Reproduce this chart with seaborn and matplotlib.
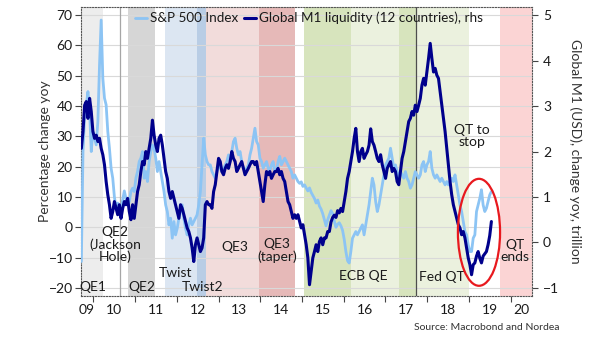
import numpy as np
import pandas as pd
import matplotlib
matplotlib.use("Agg")
import matplotlib.pyplot as plt
import seaborn as sns
from matplotlib.patches import Ellipse

# ---------------- data ----------------
start_year, end_year = 2009.713, 2019.537

sp500_yoy = [
    -11.3, 25.0, 37.1, 40.4, 44.8, 38.2, 25.0, 31.6, 29.4, 27.2, 34.9, 53.6, 68.4, 49.2, 42.6, 40.4, 31.6, 26.1, 19.5,
    16.2, 10.0, 6.5, 8.0, 4.5, 6.0, 9.0, 12.0, 9.5, 7.5, 8.5, 11.8, 12.9, 11.8, 16.2, 18.4, 21.7, 22.8, 25.0,
    16.2, 18.4, 15.1, 21.7, 25.0, 27.2, 26.1, 22.8, 18.4, 21.7, 18.4, 15.1, 11.8, 7.4, 5.2, 0.8, 3.0, -3.6, 1.9, -2.5,
    -0.3, 3.0, 5.2, 7.4, 3.0, -0.3, -2.5, 0.8, 3.0, 0.8, 1.9, 3.0, 4.1, 7.4, 11.8, 20.6, 29.4, 23.9, 21.7, 20.6,
    20.6, 18.4, 17.3, 16.2, 18.4, 20.6, 19.5, 18.4, 19.5, 20.6, 21.7, 23.9, 21.7, 25.0, 28.3, 29.4, 26.1, 23.9, 25.0, 21.7,
    19.5, 18.4, 19.5, 20.6, 23.9, 26.1, 29.4, 32.7, 28.3, 27.2, 22.8, 21.7, 19.5, 20.6, 21.7, 19.5, 18.4, 20.6, 21.7, 18.4,
    18.4, 21.7, 23.4, 20.6, 21.7, 22.8, 21.7, 20.6, 19.5, 18.4, 16.2, 17.3, 16.2, 15.1, 14.5, 15.0, 13.5, 14.0, 13.0, 12.0,
    13.0, 11.5, 10.5, 9.5, 8.0, 9.0, 7.0, 6.0, 4.5, 2.5, 0.5, 2.5, 4.0, 5.5, 4.5, 2.0, 0.0, 1.0, 1.5, 0.5,
    -1.0, -4.0, -8.0, -11.0, -11.8, -8.0, -3.6, -2.5, -1.4, -2.5, -1.4, -0.3, 0.8, -2.5, 0.8, 4.1, 7.4, 11.8, 16.2, 14.0,
    8.5, 5.2, 7.4, 10.7, 14.0, 17.3, 20.6, 21.7, 22.8, 26.1, 22.8, 19.5, 20.6, 18.4, 16.2, 18.4, 17.3, 16.2, 18.4, 16.2,
    15.1, 12.9, 14.0, 16.2, 18.4, 17.3, 16.2, 17.3, 20.6, 21.7, 18.4, 20.6, 21.7, 25.0, 19.5, 17.3, 16.2, 17.3, 16.2, 15.1,
    16.2, 15.1, 14.0, 15.1, 14.0, 15.1, 16.2, 15.1, 17.3, 14.0, 10.7, 7.4, 5.2, 1.9, -1.4, -2.5, -5.8, -8.0, -8.0, -3.6,
    -2.5, 5.2, 7.4, 9.6, 12.4, 7.4, 5.2, 6.3, 8.5, 10.7, 11.8,
]

global_m1_yoy = [
    2.07, 2.44, 3.02, 3.10, 2.73, 3.17, 2.88, 2.44, 2.29, 2.36, 2.22, 2.29, 2.07, 1.93, 1.71, 1.34, 1.05, 0.83, 0.53,
    0.68, 0.90, 0.75, 0.61, 0.83, 0.53, 0.75, 0.90, 0.83, 0.97, 0.68, 0.50, 0.83, 0.53, 0.83, 1.12, 1.27, 1.56, 1.78,
    1.71, 2.00, 1.85, 2.07, 2.29, 2.69, 2.36, 2.14, 2.00, 2.29, 2.36, 2.14, 1.85, 1.56, 1.41, 1.12, 0.97, 1.12, 0.97, 0.83,
    0.68, 0.53, 0.83, 0.75, 0.61, 0.46, 0.32, 0.24, 0.10, -0.12, -0.42, -0.05, 0.10, -0.05, -0.20, -0.12, 0.10, 0.83, 0.90, 0.83,
    0.83, 0.75, 1.12, 1.27, 1.56, 1.85, 1.78, 1.56, 1.49, 1.63, 1.71, 1.63, 1.78, 2.00, 1.85, 1.78, 1.56, 1.63, 1.71, 1.78,
    1.63, 1.49, 1.56, 1.63, 1.71, 1.78, 1.78, 1.71, 1.78, 1.56, 1.34, 1.12, 0.90, 1.27, 1.56, 1.49, 1.56, 1.41, 1.49, 1.56,
    1.56, 1.63, 1.49, 1.56, 1.41, 1.34, 1.12, 0.90, 0.83, 0.68, 0.53, 0.61, 0.53, 0.61, 0.46, 0.32, 0.39, 0.17, -0.05, -0.34,
    -0.93, -0.64, -0.34, -0.20, -0.05, -0.20, 0.02, 0.10, -0.05, 0.10, 0.10, 0.24, 0.24, 0.45, 0.55, 0.60, 0.55, 0.70, 0.65, 0.75,
    0.68, 0.90, 1.12, 1.41, 1.56, 1.78, 2.00, 2.29, 2.51, 2.00, 1.78, 2.00, 2.07, 1.85, 1.93, 2.00, 2.14, 2.50, 2.22, 2.14,
    2.00, 1.85, 1.78, 1.93, 1.71, 1.56, 1.41, 1.63, 1.71, 1.78, 1.56, 1.63, 1.56, 1.34, 1.27, 1.56, 1.85, 2.00, 2.22, 2.44,
    2.66, 2.73, 2.88, 2.80, 3.02, 2.88, 3.02, 3.17, 3.46, 3.61, 3.46, 3.75, 4.05, 4.38, 4.05, 3.75, 3.83, 3.68, 3.61, 3.32,
    3.02, 2.73, 2.44, 2.07, 1.71, 1.34, 1.05, 0.83, 0.68, 0.53, 0.39, 0.32, 0.17, 0.24, 0.10, -0.12, -0.34, -0.49, -0.71, -0.49,
    -0.45, -0.30, -0.20, -0.35, -0.45, -0.30, -0.25, -0.20, -0.05, 0.15, 0.46,
]

years = np.linspace(start_year, end_year, len(sp500_yoy))
df = pd.DataFrame({"year": years, "sp500": sp500_yoy, "m1": global_m1_yoy})

# shaded policy periods: (start, end, colour)
periods = [
    (2009.70, 2010.225, "#ededed"),   # QE1
    (2010.83, 2011.48, "#d6d6d6"),    # QE2
    (2011.72, 2012.49, "#dce6f2"),    # Twist
    (2012.49, 2012.70, "#b9cde5"),    # Twist2
    (2012.70, 2013.97, "#f2dcdb"),    # QE3
    (2013.97, 2014.83, "#e6b9b8"),    # QE3 taper
    (2015.05, 2016.17, "#d7e4bd"),    # ECB QE
    (2016.17, 2017.32, "#ebf1de"),
    (2017.32, 2017.73, "#d7e4bd"),
    (2017.73, 2018.99, "#ebf1de"),    # Fed QT
    (2019.75, 2020.60, "#fbd4d4"),    # QT ends
]
event_lines = [(2010.64, "#a6a6a6"), (2017.73, "#4d4d4d")]

annotations = [
    (2009.98, -19.7, "QE1"),
    (2010.52, -5.7, "QE2\n(Jackson\nHole)"),
    (2011.16, -19.7, "QE2"),
    (2011.98, -15.2, "Twist"),
    (2012.62, -19.7, "Twist2"),
    (2013.38, -6.6, "QE3"),
    (2014.40, -7.7, "QE3\n(taper)"),
    (2016.47, -16.1, "ECB QE"),
    (2018.35, -16.5, "Fed QT"),
    (2019.07, 30.0, "QT to\nstop"),
    (2020.11, -7.8, "QT\nends"),
]

year_labels = ["09", "10", "11", "12", "13", "14", "15", "16", "17", "18", "19", "20"]
year_label_pos = [2009.83] + [y + 0.5 for y in range(2010, 2020)] + [2020.25]

# ---------------- styling ----------------
sns.set_theme(style="white")
plt.rcParams["font.family"] = ["Lato", "DejaVu Sans"]
text_col = "#1a1a1a"
light_blue = "#8cc4f4"
navy = "#00008c"

fig = plt.figure(figsize=(6.05, 3.41), dpi=100)
ax = fig.add_axes([81 / 605, 45 / 341, 451 / 605, 289 / 341])
ax2 = ax.twinx()

for a, b, c in periods:
    ax.axvspan(a, b, color=c, lw=0, zorder=0)
for xv, c in event_lines:
    ax.axvline(xv, color=c, lw=0.9, zorder=0.6)

sns.lineplot(data=df, x="year", y="sp500", ax=ax, color=light_blue, lw=2.0,
             label="S&P 500 Index", estimator=None, zorder=3)
sns.lineplot(data=df, x="year", y="m1", ax=ax2, color=navy, lw=2.2,
             label="Global M1 liquidity (12 countries), rhs", estimator=None, zorder=3)

ax.set_xlim(2009.705, 2020.51)
ax.set_ylim(-22.67, 72.7)
ax2.set_ylim((-22.67 + 5) / 15, (72.7 + 5) / 15)

ax.set_yticks(range(-20, 71, 10))
ax2.set_yticks(range(-1, 6))
ax.yaxis.grid(True, color="#d9d9d9", lw=0.8, zorder=0.5)
ax.set_axisbelow(True)

ax.set_xticks(range(2010, 2021))
ax.set_xticklabels([])
ax.set_xticks(year_label_pos, minor=True)
ax.set_xticklabels(year_labels, minor=True)
ax.tick_params(axis="x", which="major", bottom=True, direction="out", length=4, width=0.8, color="#444444")
ax.tick_params(axis="x", which="minor", bottom=True, length=0, pad=6, labelsize=10, labelcolor=text_col)
ax.tick_params(axis="y", left=True, direction="out", length=4, width=0.8, color="#444444",
               labelsize=10, labelcolor=text_col, pad=2)
ax2.tick_params(axis="y", right=True, direction="out", length=4, width=0.8, color="#444444",
                labelsize=10, labelcolor=text_col, pad=4)

ax.set_xlabel("")
ax.set_ylabel("Percentage change yoy", fontsize=10, color="#333333", va="center")
ax.yaxis.set_label_coords(-36 / 451, 0.5)
ax2.set_ylabel("Global M1 (USD), change yoy, trillion", fontsize=10, color="#333333",
               rotation=270, va="center")
ax2.yaxis.set_label_coords(494 / 451, 0.5)

for s in ["top", "bottom", "left"]:
    ax.spines[s].set(linestyle=(0, (1, 1.5)), color="#555555", lw=0.8, visible=True)
ax.spines["right"].set_visible(False)
for s in ["top", "bottom", "left"]:
    ax2.spines[s].set_visible(False)
ax2.spines["right"].set(linestyle=(0, (1, 1.5)), color="#555555", lw=0.8, visible=True)

for lg in (ax.get_legend(), ax2.get_legend()):
    if lg is not None:
        lg.remove()
h1, l1 = ax.get_legend_handles_labels()
h2, l2 = ax2.get_legend_handles_labels()
leg = ax2.legend(h1 + h2, l1 + l2, loc="upper center", bbox_to_anchor=(228 / 451, 1.0), ncol=2,
                 frameon=False, fontsize=9.7, handlelength=0.9, handletextpad=0.25,
                 columnspacing=0.4, borderaxespad=0.15, borderpad=0.2)
for t in leg.get_texts():
    t.set_color(text_col)

for xv, yv, s in annotations:
    ax.text(xv, yv, s, ha="center", va="center", fontsize=10, color=text_col,
            linespacing=1.0, zorder=4)

ell = Ellipse((2019.24, -1.65), width=1.01, height=35.3, transform=ax.transData,
              fill=False, ec="#e8191e", lw=1.6, zorder=6, clip_on=False)
ax2.add_patch(ell)

fig.text(560 / 605, 1 - 328 / 341, "Source: Macrobond and Nordea", ha="right", va="center",
         fontsize=7.5, color="#333333")

fig.savefig("out.png", dpi=100)
